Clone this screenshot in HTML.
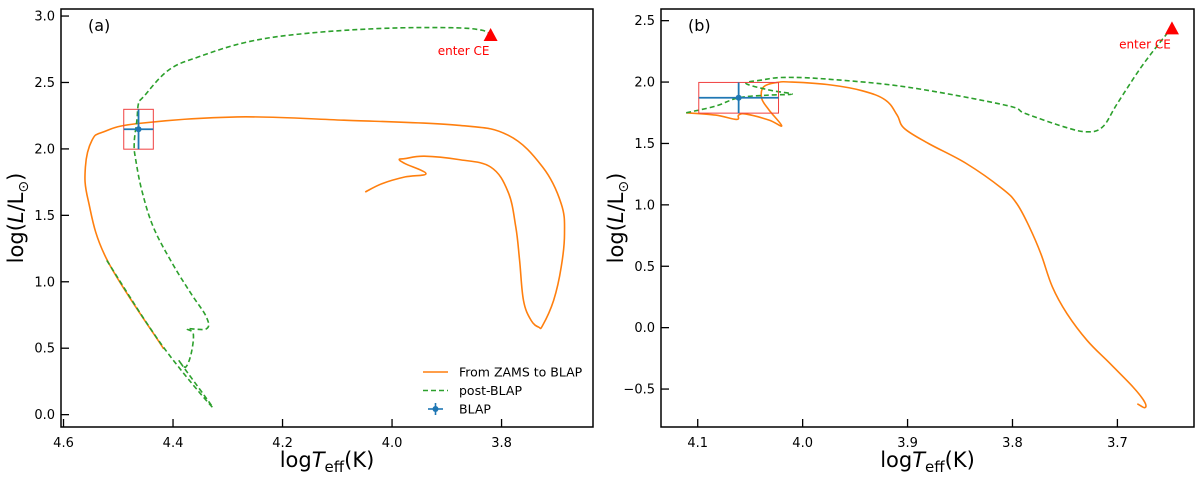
<!DOCTYPE html>
<html><head><meta charset="utf-8"><style>
html,body{margin:0;padding:0;background:#fff;}
svg{display:block;font-family:"DejaVu Sans","Liberation Sans",sans-serif;}
</style></head><body>
<svg id="fig" width="1200" height="480" viewBox="0 0 1200 480" xmlns="http://www.w3.org/2000/svg"></svg>
<script>
// Panel (a) data
const aOrangeT=[4.417,4.520,4.555,4.560,4.548,4.527,4.464,4.283,4.088,3.879,3.788,3.725,3.691,3.685,3.691,3.705,3.725,3.732,3.746,3.760,3.767,3.774,3.788,3.820,3.879,3.941,3.976,3.987,3.976,3.938,3.976,4.018,4.049];
const aOrangeL=[0.495,1.161,1.613,1.864,2.065,2.128,2.191,2.241,2.216,2.178,2.103,1.864,1.588,1.362,1.111,0.859,0.671,0.658,0.709,0.859,1.161,1.412,1.676,1.864,1.920,1.945,1.927,1.920,1.889,1.814,1.789,1.739,1.676];
const aGreenT=[4.521,4.422,4.328,4.387,4.377,4.367,4.363,4.374,4.339,4.339,4.367,4.401,4.436,4.457,4.468,4.471,4.466,4.463,4.454,4.408,4.353,4.262,4.157,4.018,3.893,3.837,3.820];
const aGreenL=[1.161,0.533,0.055,0.394,0.357,0.457,0.608,0.646,0.646,0.734,0.910,1.136,1.412,1.688,1.915,2.040,2.216,2.342,2.392,2.593,2.693,2.807,2.869,2.907,2.912,2.894,2.857];
const aBlap=[4.463,2.148,0.027,0.15];
const aCE=[3.820,2.857];
const aXTicks=[4.6,4.4,4.2,4.0,3.8];
const aYTicks=[0.0,0.5,1.0,1.5,2.0,2.5,3.0];
// Panel (b) data
const bOrangeT=[4.111,4.083,4.063,4.061,4.054,4.032,4.020,4.032,4.039,4.037,4.024,4.010,3.973,3.943,3.921,3.910,3.903,3.880,3.844,3.810,3.796,3.784,3.773,3.762,3.748,3.729,3.707,3.685,3.674,3.674,3.681];
const bOrangeL=[1.750,1.731,1.696,1.731,1.739,1.690,1.644,1.772,1.867,1.962,1.997,2.000,1.976,1.929,1.853,1.731,1.622,1.500,1.337,1.133,1.011,0.821,0.603,0.332,0.114,-0.103,-0.293,-0.484,-0.606,-0.652,-0.620];
const bGreenT=[4.111,4.083,4.061,4.032,4.010,4.032,4.054,4.039,4.017,3.973,3.899,3.807,3.788,3.751,3.729,3.714,3.700,3.677,3.655,3.648];
const bGreenL=[1.750,1.804,1.872,1.894,1.902,1.935,1.989,2.016,2.038,2.022,1.957,1.812,1.745,1.636,1.595,1.636,1.826,2.125,2.370,2.437];
const bBlap=[4.061,1.872,0.038,0.125];
const bCE=[3.648,2.437];
const bXTicks=[4.1,4.0,3.9,3.8,3.7];
const bYTicks=[-0.5,0.0,0.5,1.0,1.5,2.0,2.5];

const NS="http://www.w3.org/2000/svg";
const svg=document.getElementById('fig');
function mk(tag,attrs,parent){const e=document.createElementNS(NS,tag);for(const k in attrs)e.setAttribute(k,attrs[k]);(parent||svg).appendChild(e);return e;}

function smoothPath(pts){
  let d='M'+pts[0][0].toFixed(1)+','+pts[0][1].toFixed(1);
  const k=0.18;
  for(let i=0;i<pts.length-1;i++){
    const p0=pts[Math.max(0,i-1)],p1=pts[i],p2=pts[i+1],p3=pts[Math.min(pts.length-1,i+2)];
    const c1=[p1[0]+(p2[0]-p0[0])*k,p1[1]+(p2[1]-p0[1])*k];
    const c2=[p2[0]-(p3[0]-p1[0])*k,p2[1]-(p3[1]-p1[1])*k];
    d+='C'+c1[0].toFixed(1)+','+c1[1].toFixed(1)+' '+c2[0].toFixed(1)+','+c2[1].toFixed(1)+' '+p2[0].toFixed(1)+','+p2[1].toFixed(1);
  }
  return d;
}

function panel(cfg){
  const g=mk('g',{});
  
  
  const {x0,x1,y0,y1,tMin,tMax,lMin,lMax}=cfg;
  const X=t=>x0+(tMax-t)/(tMax-tMin)*(x1-x0);
  const Y=l=>y1-(l-lMin)/(lMax-lMin)*(y1-y0);
  const path=(ts,ls,color,dash,nm)=>{
    const pts=ts.map((t,i)=>[X(t),Y(ls[i])]);
    const p=mk('path',{d:smoothPath(pts),fill:'none',stroke:color,'stroke-width':1.6,'stroke-dasharray':dash,'stroke-linejoin':'round'},g);
    
    
  };
  path(cfg.oT,cfg.oL,'#ff7f0e','none','zams-to-blap-line');
  path(cfg.gT,cfg.gL,'#2ca02c','5,3','post-blap-line');
  const b=cfg.blap;
  const box=mk('rect',{x:X(b[0]+b[2]),y:Y(b[1]+b[3]),width:X(b[0]-b[2])-X(b[0]+b[2]),height:Y(b[1]-b[3])-Y(b[1]+b[3]),fill:'none',stroke:'#f04040','stroke-width':1},g);
  
  
  const eb=mk('g',{stroke:'#1f77b4','stroke-width':1.8},g);
  
  
  mk('line',{x1:X(b[0]+b[2]),x2:X(b[0]-b[2]),y1:Y(b[1]),y2:Y(b[1])},eb);
  mk('line',{x1:X(b[0]),x2:X(b[0]),y1:Y(b[1]+b[3]),y2:Y(b[1]-b[3])},eb);
  mk('circle',{cx:X(b[0]),cy:Y(b[1]),r:3,fill:'#1f77b4',stroke:'none'},eb);
  const cx=X(cfg.ce[0]),cy=Y(cfg.ce[1]);
  const tri=mk('polygon',{points:`${cx-7},${cy+6} ${cx+7},${cy+6} ${cx},${cy-7}`,fill:'#ff0000'},g);
  
  
  const ct=mk('text',{x:cx+cfg.ceDx,y:cy+cfg.ceDy,fill:'#ff0000','font-size':12,'text-anchor':'middle'},g);
  ct.textContent='enter CE';
  
  
  const fr=mk('rect',{x:x0,y:y0,width:x1-x0,height:y1-y0,fill:'none',stroke:'#000','stroke-width':1.5},g);
  
  
  cfg.xt.forEach(t=>{
    const x=X(t);
    mk('line',{x1:x,x2:x,y1:y1,y2:y1-8,stroke:'#000','stroke-width':1.3},g);
    const tx=mk('text',{x:x,y:y1+20,'font-size':13,'text-anchor':'middle',fill:'#000'},g);
    tx.textContent=t.toFixed(1);
    
    
  });
  cfg.yt.forEach(l=>{
    const y=Y(l);
    mk('line',{x1:x0,x2:x0+8,y1:y,y2:y,stroke:'#000','stroke-width':1.3},g);
    const tx=mk('text',{x:x0-6,y:y+4.5,'font-size':13,'text-anchor':'end',fill:'#000'},g);
    tx.textContent=(l<0?'\u2212':'')+Math.abs(l).toFixed(1);
    
    
  });
  const pl=mk('text',{x:x0+27,y:y0+22,'font-size':16,fill:'#000'},g);
  pl.textContent=cfg.label;
  
  
  const xl=mk('text',{x:(x0+x1)/2,y:y1+40,'font-size':21,'text-anchor':'middle',fill:'#000'},g);
  xl.innerHTML='log<tspan font-style="italic">T</tspan><tspan font-size="15" dy="5">eff</tspan><tspan dy="-5">(K)</tspan>';
  
  
  const yl=mk('text',{transform:`translate(${x0-38},${(y0+y1)/2}) rotate(-90)`,'font-size':21,'text-anchor':'middle',fill:'#000'},g);
  yl.innerHTML='log(<tspan font-style="italic">L</tspan>/L<tspan font-size="14" dy="5">\u2299</tspan><tspan dy="-5">)</tspan>';
  
  
  return {g,X,Y};
}

panel({name:'panel-a',x0:61,x1:593,y0:9,y1:427,tMin:3.633,tMax:4.6046,lMin:-0.093,lMax:3.053,
  oT:aOrangeT,oL:aOrangeL,gT:aGreenT,gL:aGreenL,blap:aBlap,ce:aCE,ceDx:-27,ceDy:20,xt:aXTicks,yt:aYTicks,label:'(a)'});
panel({name:'panel-b',x0:661,x1:1194,y0:9,y1:427,tMin:3.627,tMax:4.135,lMin:-0.809,lMax:2.595,
  oT:bOrangeT,oL:bOrangeL,gT:bGreenT,gL:bGreenL,blap:bBlap,ce:bCE,ceDx:-27,ceDy:20,xt:bXTicks,yt:bYTicks,label:'(b)'});

const lg=mk('g',{'font-size':12.5,fill:'#000'});


const entries=[['From ZAMS to BLAP','#ff7f0e','none'],['post-BLAP','#2ca02c','5,3'],['BLAP','#1f77b4','pt']];
entries.forEach((e,i)=>{
  const y=372+i*18.5;
  const eg=mk('g',{},lg);
  
  
  if(e[2]==='pt'){
    mk('line',{x1:428,x2:443,y1:y,y2:y,stroke:e[1],'stroke-width':1.6},eg);
    mk('line',{x1:435.5,x2:435.5,y1:y-6,y2:y+6,stroke:e[1],'stroke-width':1.6},eg);
    mk('circle',{cx:435.5,cy:y,r:3,fill:e[1]},eg);
  } else {
    mk('line',{x1:423,x2:448,y1:y,y2:y,stroke:e[1],'stroke-width':1.6,'stroke-dasharray':e[2]},eg);
  }
  const t=mk('text',{x:459,y:y+4.5},eg);
  t.textContent=e[0];
});
</script>
</body></html>
